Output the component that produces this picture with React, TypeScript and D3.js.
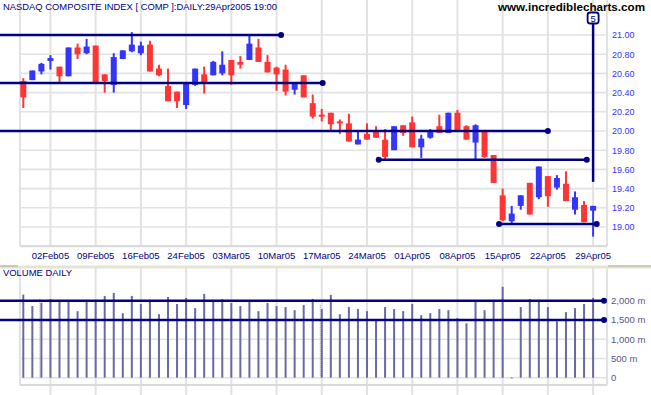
import { useRef, useEffect } from "react"
import * as d3 from "d3"

const dates = [
  "2005-01-28", "2005-01-31", "2005-02-01", "2005-02-02", "2005-02-03", "2005-02-04",
  "2005-02-07", "2005-02-08", "2005-02-09", "2005-02-10", "2005-02-11",
  "2005-02-14", "2005-02-15", "2005-02-16", "2005-02-17", "2005-02-18",
  "2005-02-22", "2005-02-23", "2005-02-24", "2005-02-25",
  "2005-02-28", "2005-03-01", "2005-03-02", "2005-03-03", "2005-03-04",
  "2005-03-07", "2005-03-08", "2005-03-09", "2005-03-10", "2005-03-11",
  "2005-03-14", "2005-03-15", "2005-03-16", "2005-03-17", "2005-03-18",
  "2005-03-21", "2005-03-22", "2005-03-23", "2005-03-24",
  "2005-03-28", "2005-03-29", "2005-03-30", "2005-03-31", "2005-04-01",
  "2005-04-04", "2005-04-05", "2005-04-06", "2005-04-07", "2005-04-08",
  "2005-04-11", "2005-04-12", "2005-04-13", "2005-04-14", "2005-04-15",
  "2005-04-18", "2005-04-19", "2005-04-20", "2005-04-21", "2005-04-22",
  "2005-04-25", "2005-04-26", "2005-04-27", "2005-04-28", "2005-04-29",
]

const opens = [
  20.52, 20.53, 20.62, 20.73, 20.67, 20.57, 20.87, 20.81, 20.89, 20.59,
  20.48, 20.75, 20.83, 20.81, 20.9, 20.65, 20.47, 20.41, 20.27, 20.48,
  20.59, 20.58, 20.6, 20.74, 20.72, 20.74, 20.87, 20.72, 20.66, 20.64,
  20.43, 20.58, 20.29, 20.17, 20.19, 20.1, 20.08, 19.86, 19.97, 20.0,
  19.91, 19.8, 20.06, 20.09, 19.83, 19.93, 20.05, 19.98, 20.19, 20.05,
  19.88, 20.01, 19.75, 19.33, 19.06, 19.22, 19.46, 19.31, 19.53, 19.41,
  19.45, 19.18, 19.23, 19.17,
]
const highs = [
  20.55, 20.63, 20.71, 20.79, 20.67, 20.87, 20.91, 20.96, 20.89, 20.59,
  20.81, 20.84, 21.03, 20.93, 20.94, 20.69, 20.65, 20.41, 20.51, 20.65,
  20.67, 20.73, 20.83, 20.74, 20.78, 21.0, 20.96, 20.79, 20.67, 20.69,
  20.51, 20.58, 20.38, 20.23, 20.19, 20.12, 20.18, 20.0, 20.08, 20.05,
  20.02, 20.05, 20.06, 20.15, 19.96, 20.02, 20.17, 20.19, 20.22, 20.06,
  20.07, 20.01, 19.75, 19.4, 19.22, 19.33, 19.46, 19.63, 19.53, 19.54,
  19.58, 19.37, 19.27, 19.22,
]
const lows = [
  20.24, 20.53, 20.59, 20.64, 20.49, 20.57, 20.75, 20.8, 20.51, 20.4,
  20.4, 20.75, 20.82, 20.79, 20.62, 20.57, 20.31, 20.24, 20.23, 20.47,
  20.39, 20.58, 20.58, 20.48, 20.65, 20.74, 20.72, 20.61, 20.42, 20.37,
  20.38, 20.35, 20.13, 20.1, 20.0, 19.97, 19.89, 19.86, 19.91, 19.93,
  19.69, 19.8, 19.95, 19.83, 19.72, 19.92, 19.98, 19.98, 19.99, 19.91,
  19.69, 19.72, 19.46, 19.06, 19.04, 19.18, 19.13, 19.29, 19.21, 19.39,
  19.27, 19.13, 19.05, 18.9,
]
const closes = [
  20.35, 20.63, 20.7, 20.76, 20.57, 20.87, 20.8, 20.88, 20.51, 20.52,
  20.77, 20.84, 20.9, 20.89, 20.62, 20.58, 20.31, 20.31, 20.51, 20.65,
  20.5, 20.72, 20.69, 20.58, 20.69, 20.91, 20.72, 20.61, 20.59, 20.41,
  20.51, 20.35, 20.15, 20.15, 20.07, 20.08, 19.89, 19.91, 19.91, 19.93,
  19.73, 20.05, 19.98, 19.83, 19.92, 20.01, 19.98, 20.19, 19.99, 19.91,
  20.06, 19.73, 19.46, 19.07, 19.14, 19.33, 19.13, 19.63, 19.32, 19.51,
  19.27, 19.31, 19.05, 19.22,
]

// volume, millions
const volumes = [
  2158, 1860, 1947, 2037, 1992, 1992, 1729, 1992, 1992, 2124,
  2203, 1676, 2124, 1913, 1992, 1650, 2097, 1913, 2071, 1808,
  2176, 1992, 2045, 1939, 1860, 1992, 1729, 1939, 1860, 1834,
  1755, 1887, 2045, 1782, 2150, 1650, 1834, 1782, 1729, 1518,
  1834, 1782, 1729, 1913, 1624, 1676, 1782, 1755, 1545, 1413,
  1966, 1755, 1966, 2361, 10, 1834, 2045, 1992, 1834, 1466,
  1703, 1808, 1913, 2071,
]

const tickDates = [
  "2005-02-02", "2005-02-09", "2005-02-16", "2005-02-24", "2005-03-03", "2005-03-10",
  "2005-03-17", "2005-03-24", "2005-04-01", "2005-04-08", "2005-04-15", "2005-04-22", "2005-04-29",
]
const priceTicks = [19.0, 19.2, 19.4, 19.6, 19.8, 20.0, 20.2, 20.4, 20.6, 20.8, 21.0]
const volumeTicks = [0, 500, 1000, 1500, 2000]
const dottedDates = ["2005-02-01", "2005-03-17"]

// support / resistance lines: price level, from / to as bar index (null = left edge)
const priceLines = [
  { level: 21.0, from: null, to: 28.5 },
  { level: 20.5, from: null, to: 33.1 },
  { level: 20.0, from: null, to: 58 },
  { level: 19.7, from: 39.3, to: 62.3 },
  { level: 19.03, from: 52.6, to: 63.4 },
]
const volumeLines = [2000, 1500]

const NAVY = "#000080"
const GRID = "#e2e2e2"

export default function App() {
  const svgRef = useRef<SVGSVGElement>(null)

  useEffect(() => {
    if (!svgRef.current) return
    const svg = d3.select(svgRef.current)
    svg.selectAll("*").remove()

    const W = 651
    const left = 20
    const right = 607
    const pTop = 0
    const pBottom = 246.2
    const vTop = 267
    const vBottom = 385

    const x = d3.scaleLinear().domain([0, dates.length - 1]).range([23.3, 593.1])
    const xd = (d: string) => x(dates.indexOf(d))
    const y = d3.scaleLinear().domain([18.8, 21.0]).range([pBottom, 35])
    const yv = d3.scaleLinear().domain([0, 2000]).range([377.7, 300.7])

    const fmtDate = d3.timeFormat("%d%b%y")
    const parse = d3.timeParse("%Y-%m-%d")

    svg.append("rect").attr("width", W).attr("height", 395).attr("fill", "#fff")

    // ---- price panel grid
    const grid = svg.append("g")
    grid.selectAll("line.h")
      .data(priceTicks)
      .join("line")
      .attr("x1", left).attr("x2", right)
      .attr("y1", (d) => y(d)).attr("y2", (d) => y(d))
      .attr("stroke", GRID).attr("stroke-width", 1.6)
    grid.selectAll("line.v")
      .data([...tickDates])
      .join("line")
      .attr("class", "v")
      .attr("x1", (d) => xd(d)).attr("x2", (d) => xd(d))
      .attr("y1", pTop).attr("y2", pBottom)
      .attr("stroke", GRID).attr("stroke-width", 2)
    grid.append("line").attr("x1", left).attr("x2", left).attr("y1", pTop).attr("y2", pBottom)
      .attr("stroke", GRID).attr("stroke-width", 2)
    grid.append("line").attr("x1", right).attr("x2", right).attr("y1", pTop).attr("y2", pBottom)
      .attr("stroke", GRID).attr("stroke-width", 2)
    grid.append("line").attr("x1", left).attr("x2", right).attr("y1", pBottom).attr("y2", pBottom)
      .attr("stroke", "#dadada").attr("stroke-width", 2.2)

    // ---- volume panel grid
    const vgrid = svg.append("g")
    vgrid.selectAll("line")
      .data(volumeTicks)
      .join("line")
      .attr("x1", left).attr("x2", right)
      .attr("y1", (d) => yv(d)).attr("y2", (d) => yv(d))
      .attr("stroke", GRID).attr("stroke-width", 1.6)
    vgrid.selectAll("line.v")
      .data(tickDates)
      .join("line")
      .attr("class", "v")
      .attr("x1", (d) => xd(d)).attr("x2", (d) => xd(d))
      .attr("y1", vTop).attr("y2", 395)
      .attr("stroke", GRID).attr("stroke-width", 2)
    vgrid.append("line").attr("x1", left).attr("x2", left).attr("y1", vTop).attr("y2", vBottom)
      .attr("stroke", GRID).attr("stroke-width", 2)
    vgrid.append("line").attr("x1", right).attr("x2", right).attr("y1", vTop).attr("y2", vBottom)
      .attr("stroke", GRID).attr("stroke-width", 2)
    vgrid.append("line").attr("x1", left).attr("x2", right).attr("y1", vBottom).attr("y2", vBottom)
      .attr("stroke", "#dadada").attr("stroke-width", 2.2)

    // panel separator
    svg.append("rect").attr("x", 0).attr("y", 265.5).attr("width", W).attr("height", 3).attr("fill", "#e4e4d6")
    svg.append("rect").attr("x", 0).attr("y", 265.5).attr("width", 18).attr("height", 1).attr("fill", "#a8a890")
    svg.append("rect").attr("x", right + 1).attr("y", 265.5).attr("width", W - right).attr("height", 1).attr("fill", "#a8a890")

    // ---- candles
    const candles = svg.append("g")
    dates.forEach((d, i) => {
      const up = closes[i] >= opens[i]
      const col = up ? "#3434ff" : "#ff3434"
      const cx = x(i)
      candles.append("rect")
        .attr("x", cx - 1).attr("width", 2)
        .attr("y", y(highs[i])).attr("height", Math.max(1, y(lows[i]) - y(highs[i])))
        .attr("fill", col)
      const top = y(Math.max(opens[i], closes[i]))
      const bot = y(Math.min(opens[i], closes[i]))
      candles.append("rect")
        .attr("x", cx - 3).attr("width", 6)
        .attr("y", top).attr("height", Math.max(2, bot - top))
        .attr("fill", col)
    })

    // ---- volume bars
    svg.append("g").selectAll("rect")
      .data(volumes)
      .join("rect")
      .attr("x", (_, i) => x(i) - 1).attr("width", 2)
      .attr("y", (v) => yv(v)).attr("height", (v) => Math.max(1, yv(0) - yv(v)))
      .attr("fill", "#6a6aa2")
    svg.append("g").selectAll("line")
      .data(dottedDates)
      .join("line")
      .attr("x1", (d) => xd(d) - 1.5).attr("x2", (d) => xd(d) - 1.5)
      .attr("y1", (d) => yv(volumes[dates.indexOf(d)]) - 4).attr("y2", yv(0))
      .attr("stroke", "#9a9ac0").attr("stroke-width", 1).attr("stroke-dasharray", "1,1")

    // ---- support / resistance lines
    const lines = svg.append("g")
    priceLines.forEach((l) => {
      const x1 = l.from === null ? 0 : x(l.from)
      const x2 = x(l.to)
      lines.append("line").attr("x1", x1).attr("x2", x2)
        .attr("y1", y(l.level)).attr("y2", y(l.level))
        .attr("stroke", NAVY).attr("stroke-width", 2.5)
      if (l.from !== null) lines.append("circle").attr("cx", x1).attr("cy", y(l.level)).attr("r", 3).attr("fill", NAVY)
      lines.append("circle").attr("cx", x2).attr("cy", y(l.level)).attr("r", 3).attr("fill", NAVY)
    })
    volumeLines.forEach((v) => {
      lines.append("line").attr("x1", 0).attr("x2", 604)
        .attr("y1", yv(v)).attr("y2", yv(v))
        .attr("stroke", NAVY).attr("stroke-width", 2.5)
      lines.append("circle").attr("cx", 604).attr("cy", yv(v)).attr("r", 3).attr("fill", NAVY)
    })

    // wave label "5" with projection line
    const lx = x(dates.length - 1)
    lines.append("line").attr("x1", lx).attr("x2", lx).attr("y1", 22).attr("y2", y(19.47))
      .attr("stroke", NAVY).attr("stroke-width", 2.5)
    lines.append("rect").attr("x", lx - 5.5).attr("y", 12.5).attr("width", 11).attr("height", 11)
      .attr("rx", 2.5).attr("fill", "#fff").attr("stroke", NAVY).attr("stroke-width", 1.8)
    lines.append("text").attr("x", lx).attr("y", 21.5).attr("text-anchor", "middle")
      .attr("font-family", "Liberation Sans, Arial, sans-serif").attr("font-size", 9.5)
      .attr("fill", NAVY).text("5")

    // ---- text
    const font = "Liberation Sans, Arial, sans-serif"
    svg.append("text").attr("x", 3).attr("y", 9.6)
      .attr("font-family", font).attr("font-size", 9.6).attr("fill", NAVY)
      .attr("textLength", 274).attr("lengthAdjust", "spacingAndGlyphs")
      .text("NASDAQ COMPOSITE INDEX [ COMP ]:DAILY:29Apr2005 19:00")
    svg.append("text").attr("x", 498).attr("y", 11)
      .attr("font-family", font).attr("font-size", 10.5).attr("font-weight", "bold").attr("fill", "#000")
      .attr("textLength", 147).attr("lengthAdjust", "spacingAndGlyphs")
      .text("www.incrediblecharts.com")
    svg.append("text").attr("x", 3).attr("y", 276.2)
      .attr("font-family", font).attr("font-size", 9.6).attr("fill", NAVY)
      .attr("textLength", 69).attr("lengthAdjust", "spacingAndGlyphs")
      .text("VOLUME DAILY")

    svg.append("g").selectAll("text")
      .data(priceTicks)
      .join("text")
      .attr("x", 612).attr("y", (d) => y(d) + 3.3)
      .attr("font-family", font).attr("font-size", 9).attr("fill", "#3434ff")
      .text((d) => d3.format(".2f")(d))

    svg.append("g").selectAll("text")
      .data(volumeTicks)
      .join("text")
      .attr("x", 611).attr("y", (d) => yv(d) + 3.3)
      .attr("font-family", font).attr("font-size", 9.5).attr("fill", "#55558a")
      .text((d) => (d === 0 ? "0" : `${d3.format(",")(d)} m`))

    svg.append("g").selectAll("text")
      .data(tickDates)
      .join("text")
      .attr("x", (d) => xd(d)).attr("y", 259.4).attr("text-anchor", "middle")
      .attr("font-family", font).attr("font-size", 9.5).attr("fill", NAVY)
      .text((d) => fmtDate(parse(d) as Date))
  }, [])

  return (
    <div style={{ position: "absolute", left: 0, top: 0 }}>
      <svg ref={svgRef} width={651} height={395} style={{ display: "block" }}></svg>
    </div>
  )
}
